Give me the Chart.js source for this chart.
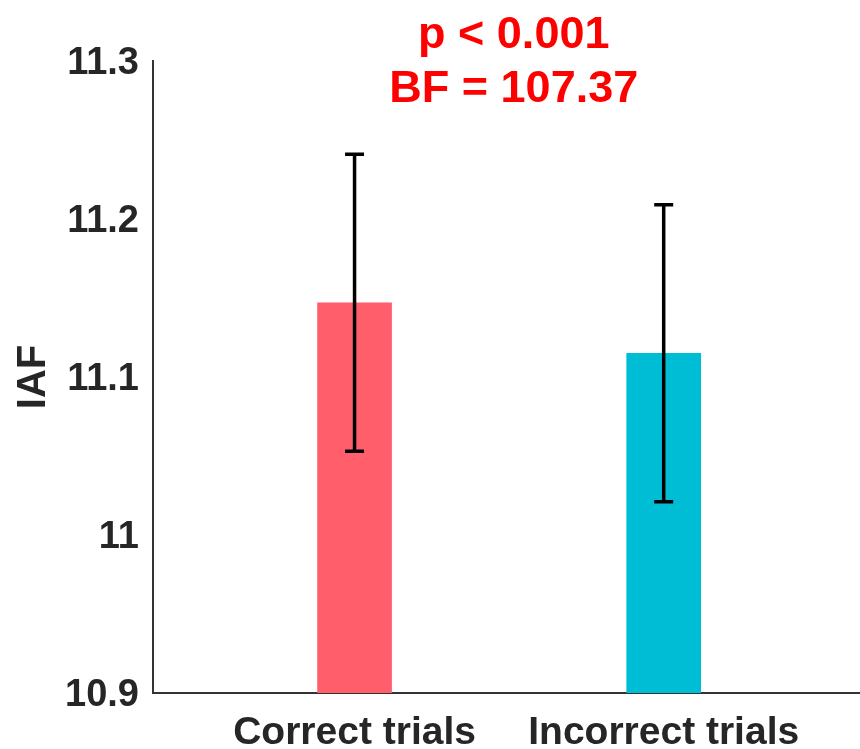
<!DOCTYPE html>
<html>
<head>
<meta charset="utf-8">
<script src="https://cdn.jsdelivr.net/npm/chart.js@4/dist/chart.umd.min.js"></script>
<style>
  html, body { margin: 0; padding: 0; background: #fff; }
  #wrap { width: 860px; height: 749px; position: relative; }
</style>
</head>
<body>
<div id="wrap"><canvas id="iaf-chart"></canvas></div>
<script>
// data
const categories = ['Correct trials', 'Incorrect trials'];
const xPositions = [1, 2];
const iafMeans = [11.147, 11.115];
const iafErrors = [0.094, 0.094];
const barColors = ['#FF5E6A', '#00BDD6'];
const yTickLabels = ['10.9', '11', '11.1', '11.2', '11.3'];
const statsLines = ['p < 0.001', 'BF = 107.37'];

const FONT = "'Liberation Sans', Arial, sans-serif";

// error bars + stats annotation
const errorBarPlugin = {
  id: 'errorBars',
  afterDatasetsDraw(chart) {
    const ctx = chart.ctx;
    const xs = chart.scales.x;
    const ys = chart.scales.y;
    ctx.save();
    ctx.strokeStyle = '#000';
    ctx.lineWidth = 3.5;
    iafMeans.forEach((m, i) => {
      const x = xs.getPixelForValue(xPositions[i]);
      const yTop = ys.getPixelForValue(m + iafErrors[i]);
      const yBot = ys.getPixelForValue(m - iafErrors[i]);
      ctx.beginPath();
      ctx.moveTo(x, yTop);
      ctx.lineTo(x, yBot);
      ctx.moveTo(x - 9.5, yTop);
      ctx.lineTo(x + 9.5, yTop);
      ctx.moveTo(x - 9.5, yBot);
      ctx.lineTo(x + 9.5, yBot);
      ctx.stroke();
    });

    const cx = xs.getPixelForValue(1.515);
    const top = chart.chartArea.top;
    ctx.fillStyle = '#FF0000';
    ctx.font = 'bold 45px ' + FONT;
    ctx.textAlign = 'center';
    ctx.textBaseline = 'alphabetic';
    ctx.fillText(statsLines[0], cx, top - 13);
    ctx.fillText(statsLines[1], cx, top + 41);
    ctx.restore();
  }
};

const ctx = document.getElementById('iaf-chart').getContext('2d');
new Chart(ctx, {
  type: 'bar',
  data: {
    datasets: [{
      data: xPositions.map((x, i) => ({ x: x, y: iafMeans[i] })),
      backgroundColor: barColors,
      barThickness: 74
    }]
  },
  options: {
    responsive: true,
    maintainAspectRatio: false,
    animation: false,
    layout: { padding: { top: 61, right: 0, left: 0, bottom: 0 } },
    plugins: {
      legend: { display: false },
      tooltip: { enabled: false }
    },
    scales: {
      x: {
        type: 'linear',
        min: 0.348,
        max: 2.635,
        offset: false,
        grid: { display: false, drawTicks: false },
        border: { display: true, color: '#333', width: 2 },
        afterBuildTicks: scale => {
          scale.ticks = xPositions.map(v => ({ value: v }));
        },
        afterFit: scale => { scale.height = 56; },
        ticks: {
          color: '#262626',
          padding: 17,
          autoSkip: false,
          maxRotation: 0,
          font: { family: FONT, size: 39, weight: 'bold' },
          callback: (v, i) => categories[i]
        }
      },
      y: {
        min: 10.9,
        max: 11.3,
        grid: { display: false, drawTicks: false },
        border: { display: true, color: '#333', width: 2 },
        afterFit: scale => { scale.width = 153; },
        ticks: {
          stepSize: 0.1,
          color: '#262626',
          padding: 14,
          labelOffset: 3,
          font: { family: FONT, size: 38, weight: 'bold' },
          callback: (v, i) => yTickLabels[i]
        },
        title: {
          display: true,
          text: 'IAF',
          color: '#262626',
          padding: { top: 10, bottom: 0 },
          font: { family: FONT, size: 40, weight: 'bold' }
        }
      }
    }
  },
  plugins: [errorBarPlugin]
});
</script>
</body>
</html>
